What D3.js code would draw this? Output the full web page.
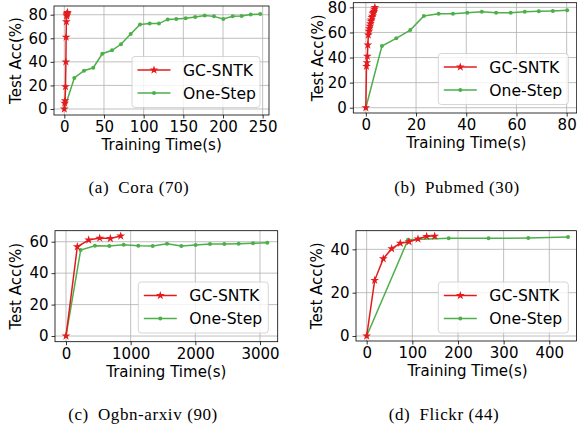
<!DOCTYPE html>
<html>
<head>
<meta charset="utf-8">
<script src="https://cdn.jsdelivr.net/npm/d3@7"></script>
<style>
  body { margin: 0; background: #fff; }
  svg { display: block; font-family: 'DejaVu Sans', sans-serif; }
</style>
</head>
<body>
<svg width="577" height="425"></svg>
<script>
// series values (time in s, accuracy in %)
const seriesNames = ['GC-SNTK', 'One-Step']

const coraGcTime = [0, 0.5, 1, 1.5, 2, 2.3, 2.6, 3, 3.3, 3.6, 3.9]
const coraGcAcc = [0, 5, 7, 19, 40, 61, 74, 79, 80, 81, 82]
const coraOneTime = [0, 12.6, 24.8, 36.5, 47.9, 60.1, 71.4, 83.7, 95.4, 107.6, 119.3, 130.3, 141.1, 153, 165, 176.9, 188.6, 200.4, 212.2, 223.5, 234.9, 247]
const coraOneAcc = [0, 26.3, 32.5, 35, 46.9, 49.8, 54.9, 63.6, 71.8, 72.5, 72.5, 76, 76.3, 77, 78, 79.3, 78.6, 76.3, 78.6, 78.9, 80.1, 80.6]

const pubGcTime = [0, 0.25, 0.4, 0.6, 0.8, 1.0, 1.2, 1.4, 1.6, 1.8, 2.0, 2.2, 2.4, 2.6, 2.8, 3.0, 3.2, 3.4, 3.6]
const pubGcAcc = [0, 33, 36, 41, 50, 58, 61, 63, 65, 67, 69, 70, 72, 73, 75, 76, 77, 78.5, 80]
const pubOneTime = [0, 6.4, 12.1, 17.7, 23.1, 29, 34.7, 40.4, 46.2, 51.9, 57.7, 63.3, 68.9, 74.5, 80.2]
const pubOneAcc = [0, 49.2, 55.3, 61.9, 73.1, 74.9, 74.9, 75.7, 76.5, 75.7, 75.7, 76.5, 76.8, 77.1, 77.6]

const arxGcTime = [0, 175, 351, 521, 686, 846]
const arxGcAcc = [0, 56.8, 61.1, 62.3, 62.1, 63.6]
const arxOneTime = [0, 227, 448, 670, 892, 1118, 1341, 1562, 1783, 2005, 2227, 2448, 2670, 2892, 3113]
const arxOneAcc = [0, 54.7, 57.4, 57.2, 58.1, 57.4, 57.2, 58.7, 57.2, 57.9, 58.5, 58.5, 58.7, 59, 59.3]

const flkGcTime = [0, 17.5, 36.4, 54.8, 73.6, 92.7, 112.4, 131.4, 149]
const flkGcAcc = [0, 25.7, 35.7, 40.3, 42.8, 43.5, 44.8, 46, 46.1]
const flkOneTime = [0, 90.5, 179.6, 267, 354, 441]
const flkOneAcc = [0, 44.4, 45.1, 45.1, 45.2, 45.7]

const captions = ['(a)\u2002Cora (70)', '(b)\u2002Pubmed (30)', '(c)\u2002Ogbn-arxiv (90)', '(d)\u2002Flickr (44)']
const xTicks = [[0, 50, 100, 150, 200, 250], [0, 20, 40, 60, 80], [0, 1000, 2000, 3000], [0, 100, 200, 300, 400]]
const yTicks = [[0, 20, 40, 60, 80], [0, 20, 40, 60, 80], [0, 20, 40, 60], [0, 20, 40]]
const xDomains = [[-13, 258], [-5, 84], [-170, 3274], [-23.4, 459.6]]
const yDomains = [[-5.1, 87.4], [-4.2, 83.7], [-3.6, 67], [-2.3, 48.6]]

const colors = ['#e41a1c', '#4daf4a']

// layout in pixels
const boxes = [[54, 6, 269, 115], [353.3, 2.7, 576.7, 113], [55, 230.7, 277.7, 341.7], [356, 230.7, 576.5, 341]]
const legendBoxes = [[132, 56.5, 128], [438.3, 53.5, 130], [138.3, 282, 130], [438.3, 282, 130]]
const yLabelX = [21, 323, 21, 322]
const xLabelX = [161.7, 466.3, 166.3, 467.5]
const captionPos = [[139, 193], [457, 193], [143, 420], [444, 420]]

const panels = [
  { gc: [coraGcTime, coraGcAcc], one: [coraOneTime, coraOneAcc] },
  { gc: [pubGcTime, pubGcAcc], one: [pubOneTime, pubOneAcc] },
  { gc: [arxGcTime, arxGcAcc], one: [arxOneTime, arxOneAcc] },
  { gc: [flkGcTime, flkGcAcc], one: [flkOneTime, flkOneAcc] }
]

const svg = d3.select('svg')
const fs = 15

panels.forEach((p, i) => {
  const [l, t, r, b] = boxes[i]
  const x = d3.scaleLinear().domain(xDomains[i]).range([l, r])
  const y = d3.scaleLinear().domain(yDomains[i]).range([b, t])
  const g = svg.append('g')

  g.append('clipPath').attr('id', 'clip' + i)
    .append('rect').attr('x', l).attr('y', t).attr('width', r - l).attr('height', b - t)

  // grid
  const grid = g.append('g').attr('stroke', '#b0b0b0').attr('stroke-width', 0.8)
  xTicks[i].forEach(v => {
    grid.append('line').attr('x1', x(v)).attr('x2', x(v)).attr('y1', t).attr('y2', b)
  })
  yTicks[i].forEach(v => {
    grid.append('line').attr('x1', l).attr('x2', r).attr('y1', y(v)).attr('y2', y(v))
  })

  // axes
  const xa = g.append('g').attr('transform', 'translate(0,' + b + ')')
    .call(d3.axisBottom(x).tickValues(xTicks[i]).tickFormat(d3.format('d')).tickSize(3.5).tickPadding(3))
  const ya = g.append('g').attr('transform', 'translate(' + l + ',0)')
    .call(d3.axisLeft(y).tickValues(yTicks[i]).tickFormat(d3.format('d')).tickSize(3.5).tickPadding(3))
  ;[xa, ya].forEach(a => {
    a.select('.domain').remove()
    a.selectAll('text').attr('font-size', fs).attr('font-family', 'DejaVu Sans').attr('fill', '#000')
    a.selectAll('line').attr('stroke', '#000').attr('stroke-width', 0.8)
  })

  // series
  const plot = g.append('g').attr('clip-path', 'url(#clip' + i + ')')
  const line = d3.line().x(d => x(d[0])).y(d => y(d[1]))
  const one = p.one[0].map((v, k) => [v, p.one[1][k]])
  const gc = p.gc[0].map((v, k) => [v, p.gc[1][k]])

  plot.append('path').datum(one).attr('d', line)
    .attr('fill', 'none').attr('stroke', colors[1]).attr('stroke-width', 1.5)
  plot.selectAll('.dot').data(one).enter().append('circle')
    .attr('cx', d => x(d[0])).attr('cy', d => y(d[1])).attr('r', 2).attr('fill', colors[1])

  plot.append('path').datum(gc).attr('d', line)
    .attr('fill', 'none').attr('stroke', colors[0]).attr('stroke-width', 1.5)
  plot.selectAll('.star').data(gc).enter().append('path')
    .attr('d', d3.symbol(d3.symbolStar, 24))
    .attr('transform', d => 'translate(' + x(d[0]) + ',' + y(d[1]) + ')')
    .attr('fill', colors[0])

  // spines
  g.append('rect').attr('x', l).attr('y', t).attr('width', r - l).attr('height', b - t)
    .attr('fill', 'none').attr('stroke', '#000').attr('stroke-width', 0.8)

  // legend
  const [lx, ly, lw] = legendBoxes[i]
  const lg = g.append('g').attr('transform', 'translate(' + lx + ',' + ly + ')')
  lg.append('rect').attr('x', 0).attr('y', 0).attr('width', lw).attr('height', 51).attr('rx', 3)
    .attr('fill', '#fff').attr('fill-opacity', 0.8).attr('stroke', '#cccccc').attr('stroke-width', 0.8)
  seriesNames.forEach((name, k) => {
    const yy = 13.5 + k * 23
    lg.append('line').attr('x1', 5.5).attr('x2', 38.5).attr('y1', yy).attr('y2', yy)
      .attr('stroke', colors[k]).attr('stroke-width', 1.5)
    if (k === 0) {
      lg.append('path').attr('d', d3.symbol(d3.symbolStar, 24)).attr('transform', 'translate(22,' + yy + ')').attr('fill', colors[0])
    } else {
      lg.append('circle').attr('cx', 22).attr('cy', yy).attr('r', 2).attr('fill', colors[1])
    }
    lg.append('text').attr('x', 51).attr('y', yy).attr('dy', '0.36em')
      .attr('font-size', 15.6).text(name)
  })

  // axis labels
  g.append('text').attr('x', xLabelX[i]).attr('y', b + 35)
    .attr('text-anchor', 'middle').attr('font-size', fs).text('Training Time(s)')
  g.append('text')
    .attr('transform', 'translate(' + yLabelX[i] + ',' + ((t + b) / 2) + ') rotate(-90)')
    .attr('text-anchor', 'middle').attr('font-size', fs).text('Test Acc(%)')

  // caption
  g.append('text').attr('x', captionPos[i][0]).attr('y', captionPos[i][1])
    .attr('text-anchor', 'middle').attr('font-family', 'Liberation Serif').attr('font-size', 17)
    .attr('letter-spacing', 0.6)
    .text(captions[i])
})
</script>
</body>
</html>
